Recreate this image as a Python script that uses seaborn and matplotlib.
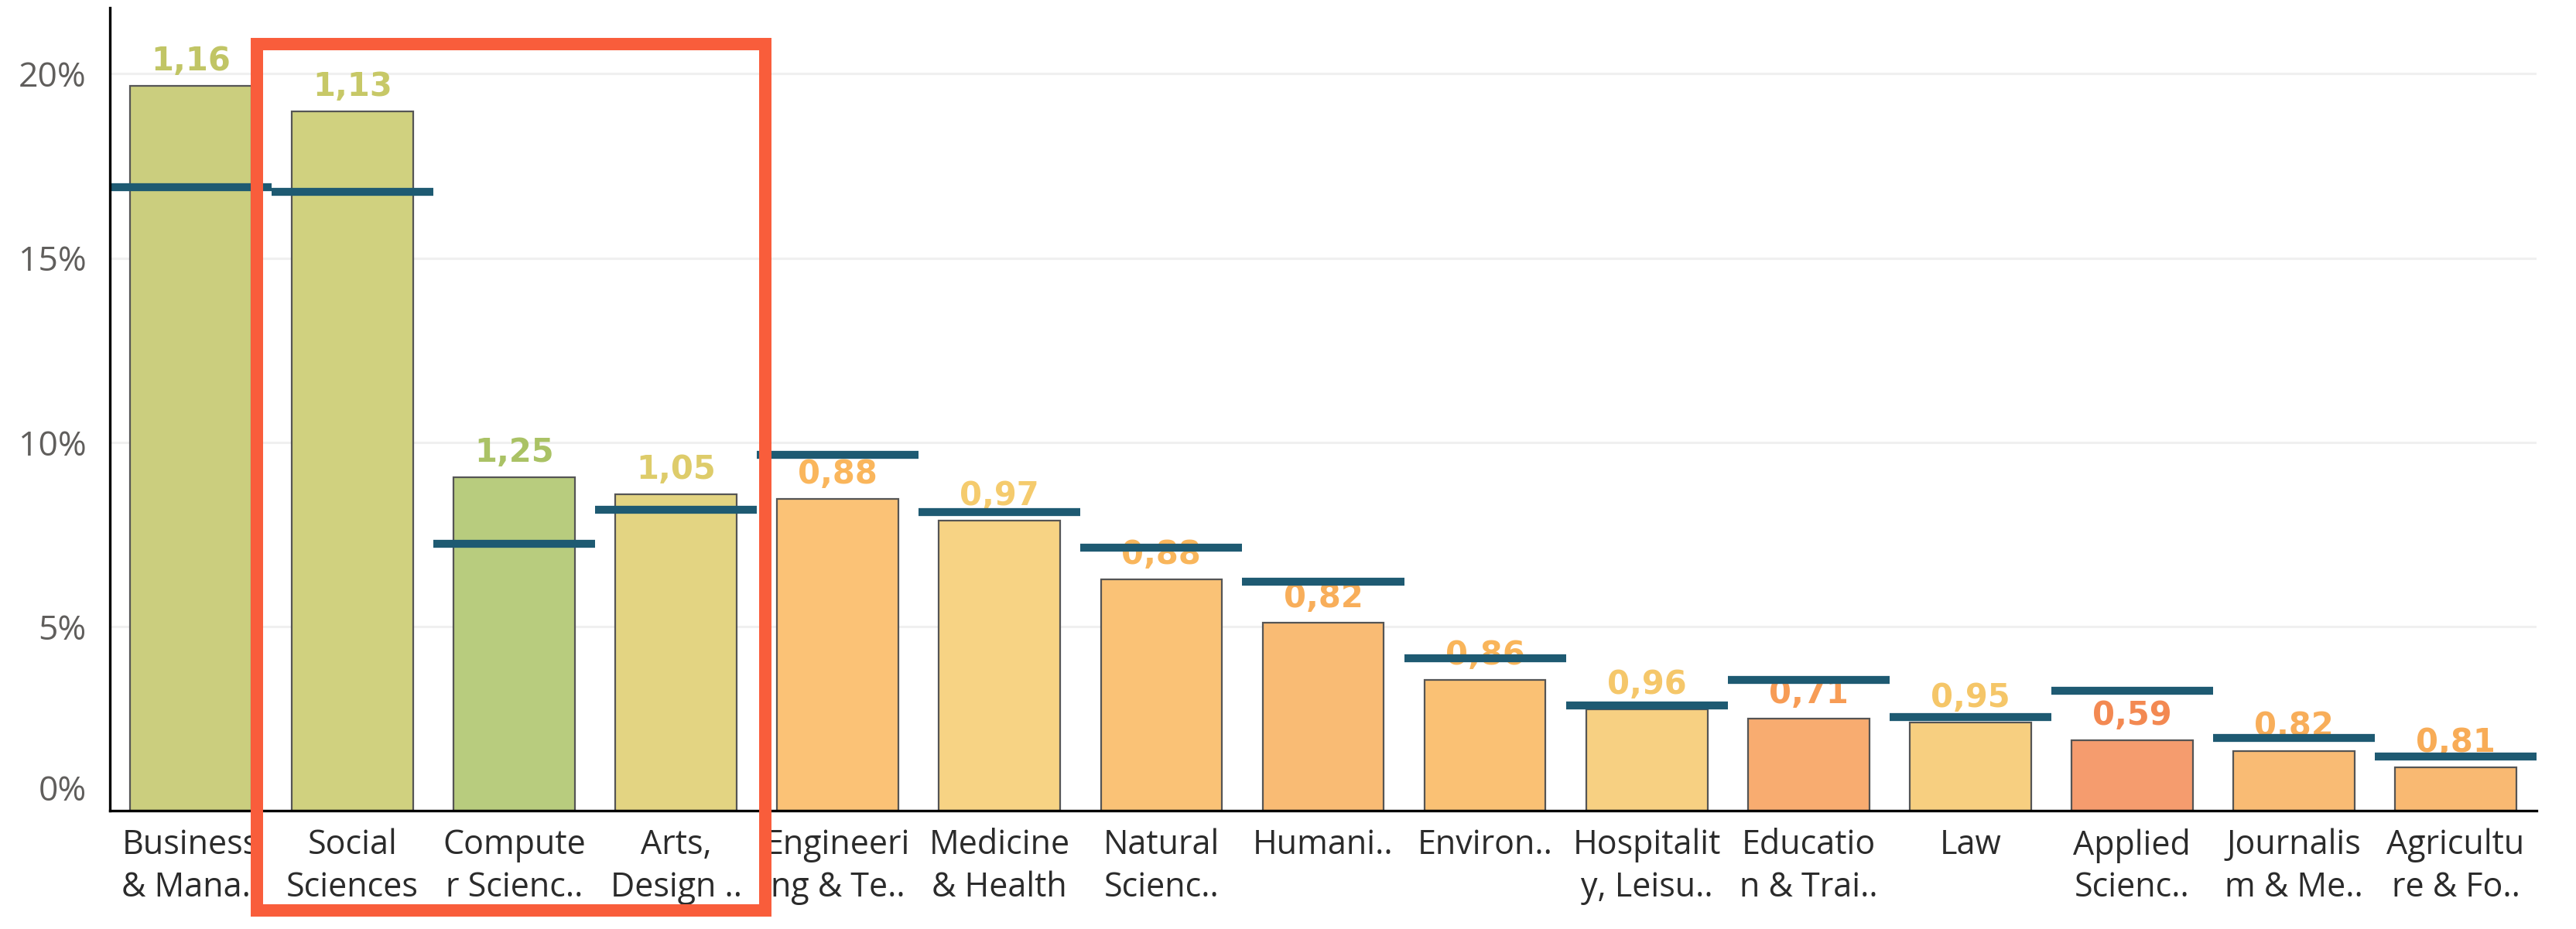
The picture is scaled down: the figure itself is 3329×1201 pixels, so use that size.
import numpy as np
import pandas as pd
import matplotlib
matplotlib.use("Agg")
import matplotlib.pyplot as plt
from matplotlib.patches import Rectangle
from matplotlib.transforms import ScaledTranslation
from matplotlib.colors import to_rgb
import seaborn as sns

# ---- data -------------------------------------------------------------
fields = [
    "Business\n& Mana..", "Social\nSciences", "Compute\nr Scienc..", "Arts,\nDesign ..",
    "Engineeri\nng & Te..", "Medicine\n& Health", "Natural\nScienc..", "Humani..",
    "Environ..", "Hospitalit\ny, Leisu..", "Educatio\nn & Trai..", "Law",
    "Applied\nScienc..", "Journalis\nm & Me..", "Agricultu\nre & Fo..",
]
share = [19.68, 18.97, 9.06, 8.60, 8.47, 7.87, 6.29, 5.11,
         3.56, 2.76, 2.51, 2.41, 1.92, 1.63, 1.19]          # % of total
target = [16.92, 16.80, 7.24, 8.17, 9.66, 8.10, 7.14, 6.23,
          4.14, 2.87, 3.55, 2.54, 3.26, 1.99, 1.47]         # reference share, %
y_ticks = [0, 5, 10, 15, 20]

# ---- styling ----------------------------------------------------------
fill_colors = ["#CBCE7E", "#D0D17F", "#B8CC7E", "#E3D482", "#FBC276", "#F7D384",
               "#FAC276", "#F9BB74", "#FAC174", "#F7D082", "#F8AC70", "#F7CF80",
               "#F59C6E", "#F9BB74", "#F9B972"]
target_color = "#1E5A72"
edge_color = "#555555"
grid_color = "#F0F0F0"
highlight_color = "#F95D3B"


def label_tone(hex_color, alpha=0.84):
    """Stronger tone of a bar fill, used for its index label."""
    rgb = np.array(to_rgb(hex_color))
    return tuple(np.clip((rgb - (1 - alpha)) / alpha, 0, 1))


df = pd.DataFrame({"field": fields, "share": share, "target": target})
df["ratio"] = df["share"] / df["target"]

sns.set_theme(style="white")
plt.rcParams["font.family"] = ["Open Sans", "DejaVu Sans"]

W, H, DPI = 3329, 1201, 100
fig = plt.figure(figsize=(W / DPI, H / DPI), dpi=DPI)
ax = fig.add_axes([142 / W, 1 - 1048.4 / H, (3278 - 142) / W, (1048.4 - 10) / H])

sns.barplot(data=df, x="field", y="share", hue="field", palette=fill_colors,
            legend=False, width=0.75, edgecolor=edge_color, linewidth=1.6,
            saturation=1, ax=ax, zorder=2)

xs = np.arange(len(df))

# index labels (share / target) above each bar
for x, s, r, c in zip(xs, df["share"], df["ratio"], fill_colors):
    ax.annotate(f"{r:.2f}".replace(".", ","), xy=(x, s), xytext=(0, 14.4),
                textcoords="offset points", ha="center", va="baseline",
                fontsize=30, fontweight="bold", family="DejaVu Sans",
                color=label_tone(c), zorder=3)

# target markers spanning each category slot
ax.hlines(df["target"], xs - 0.5, xs + 0.5, colors=target_color,
          linewidth=7.4, zorder=4, capstyle="butt")

# axes, grid and ticks
ax.set_xlim(-0.5, len(df) - 0.5)
ax.set_ylim(0, 21.79)
ax.set_yticks(y_ticks)
ax.set_yticklabels([f"{t}%" for t in y_ticks])
ax.set_xlabel("")
ax.set_ylabel("")
ax.yaxis.grid(True, color=grid_color, linewidth=2.2, zorder=0)
ax.set_axisbelow(True)
for side in ("top", "right"):
    ax.spines[side].set_visible(False)
for side in ("left", "bottom"):
    ax.spines[side].set_color("black")
    ax.spines[side].set_linewidth(2.4)
    ax.spines[side].set_zorder(5)

ax.tick_params(axis="x", which="major", length=0, pad=16, labelsize=31,
               labelcolor="#2B2B2B")
ax.set_xticks(np.arange(-0.5, len(df), 1), minor=True)
ax.tick_params(axis="x", which="minor", length=10, width=2, color="#EEEEEE")
ax.tick_params(axis="y", which="major", length=13.7, width=2.2, color=grid_color,
               pad=8, labelsize=32, labelcolor="#605E5C")
for lbl in ax.get_xticklabels():
    lbl.set_linespacing(1.3)

# the zero label sits a little above the baseline
zero_lbl = ax.get_yticklabels()[0]
zero_lbl.set_transform(zero_lbl.get_transform()
                       + ScaledTranslation(0, 30 / DPI, fig.dpi_scale_trans))

# highlight frame around Social Sciences .. Arts
ax.add_patch(Rectangle((0.409, -2.7), 3.553 - 0.409, 20.81 + 2.7, fill=False,
                       edgecolor=highlight_color, linewidth=11.5, clip_on=False,
                       zorder=6, joinstyle="miter"))

fig.savefig("out.png", dpi=DPI, facecolor="white")
